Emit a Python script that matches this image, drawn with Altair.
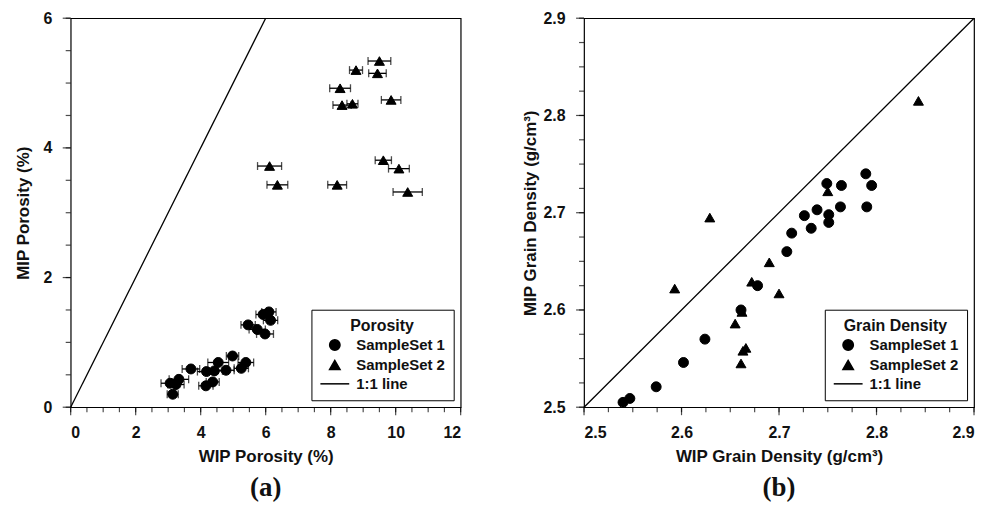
import altair as alt
import pandas as pd
import numpy as np

# ---------------- Panel (a): Porosity ----------------
s1_wip = [3.14, 3.06, 3.33, 3.24, 3.70, 4.16, 4.37, 4.18, 4.42, 4.54, 4.78, 4.98, 5.25, 5.39, 5.46, 5.74, 5.98, 5.92, 6.10, 6.15]
s1_mip = [0.20, 0.37, 0.43, 0.35, 0.59, 0.33, 0.39, 0.55, 0.56, 0.69, 0.57, 0.79, 0.60, 0.69, 1.27, 1.20, 1.13, 1.43, 1.47, 1.34]
s1_err = [0.17, 0.28, 0.30, 0.25, 0.27, 0.22, 0.20, 0.28, 0.25, 0.32, 0.25, 0.19, 0.22, 0.24, 0.22, 0.25, 0.26, 0.22, 0.22, 0.22]
s2_wip = [9.50, 8.78, 9.44, 8.29, 8.35, 8.67, 9.86, 6.12, 6.36, 8.20, 9.62, 10.10, 10.37]
s2_mip = [5.34, 5.20, 5.15, 4.92, 4.66, 4.68, 4.74, 3.72, 3.43, 3.43, 3.81, 3.68, 3.32]
s2_err = [0.35, 0.20, 0.27, 0.32, 0.28, 0.17, 0.30, 0.37, 0.32, 0.29, 0.25, 0.32, 0.45]

# ---------------- Panel (b): Grain density ----------------
g1_wip = [2.540, 2.547, 2.574, 2.602, 2.624, 2.661, 2.678, 2.708, 2.713, 2.726, 2.733, 2.739, 2.749, 2.751, 2.751, 2.763, 2.764, 2.789, 2.795, 2.790]
g1_mip = [2.505, 2.509, 2.521, 2.546, 2.570, 2.600, 2.625, 2.660, 2.679, 2.697, 2.684, 2.703, 2.730, 2.698, 2.690, 2.706, 2.728, 2.740, 2.728, 2.706]
g2_wip = [2.593, 2.629, 2.655, 2.663, 2.666, 2.661, 2.662, 2.672, 2.690, 2.700, 2.750, 2.843]
g2_mip = [2.622, 2.695, 2.586, 2.558, 2.561, 2.545, 2.598, 2.629, 2.649, 2.617, 2.722, 2.815]

# axis ticks
a_x_major = [0, 2, 4, 6, 8, 10, 12]
a_x_minor = [0.5 * i for i in range(25)]
a_y_major = [0, 2, 4, 6]
a_y_minor = [0.5 * i for i in range(13)]
b_major = [2.5, 2.6, 2.7, 2.8, 2.9]
b_minor = [round(2.5 + 0.025 * i, 3) for i in range(17)]

groups = ["SampleSet 1", "SampleSet 2", "1:1 line"]
shapes = ["circle", "triangle-up", "stroke"]

FONT = "Liberation Sans"
INK = "#111111"

por = pd.concat([
    pd.DataFrame({"wip": s1_wip, "mip": s1_mip, "err": s1_err, "set": groups[0]}),
    pd.DataFrame({"wip": s2_wip, "mip": s2_mip, "err": s2_err, "set": groups[1]}),
], ignore_index=True)
por["lo"] = por["wip"] - por["err"]
por["hi"] = por["wip"] + por["err"]

gd = pd.concat([
    pd.DataFrame({"wip": g1_wip, "mip": g1_mip, "set": groups[0]}),
    pd.DataFrame({"wip": g2_wip, "mip": g2_mip, "set": groups[1]}),
], ignore_index=True)

one_a = pd.DataFrame({"wip": [0, 6], "mip": [0, 6]})
one_b = pd.DataFrame({"wip": [2.5, 2.9], "mip": [2.5, 2.9]})


def label_axis(title, values, fmt, pad, tpad):
    return alt.Axis(
        title=title, values=values, grid=False, format=fmt,
        ticks=False, domain=False, labelOverlap=False, labelPadding=pad, titlePadding=tpad,
        labelFont=FONT, labelFontSize=16, labelFontWeight="bold", labelColor=INK,
        titleFont=FONT, titleFontSize=17, titleFontWeight="bold", titleColor=INK,
    )


def legend(title):
    return alt.Legend(
        title=title, orient="bottom-right", offset=7,
        strokeColor="black", fillColor="white", padding=8,
        titleFont=FONT, titleFontSize=16, titleFontWeight="bold", titleColor=INK,
        titleAnchor="middle", titlePadding=4,
        labelFont=FONT, labelFontSize=15, labelFontWeight="bold", labelColor=INK,
        symbolStrokeWidth=1.5, rowPadding=3, labelOffset=14, symbolOffset=8,
        symbolSize=alt.ExprRef(expr="datum.value === '1:1 line' ? 840 : 110"),
    )


def panel(df, line_df, xdom, ydom, ticks, xaxis, yaxis, leg_title, tag, errbars):
    xs = alt.Scale(domain=xdom, nice=False, zero=False)
    ys = alt.Scale(domain=ydom, nice=False, zero=False)
    xmaj, xmin, ymaj, ymin = ticks
    base = alt.Chart(df)
    layers = []
    # outward tick marks along the bottom and left edges (major 8px, minor 5px)
    for vals, size in ((xmin, 5), (xmaj, 8)):
        tdf = pd.DataFrame({"v": vals, "b": ydom[0]})
        layers.append(alt.Chart(tdf).mark_tick(orient="vertical", size=size, thickness=1.2,
                                               yOffset=size / 2, color="black").encode(
            x=alt.X("v:Q", scale=xs, axis=xaxis), y=alt.Y("b:Q", scale=ys, axis=yaxis)))
    for vals, size in ((ymin, 5), (ymaj, 8)):
        tdf = pd.DataFrame({"v": vals, "b": xdom[0]})
        layers.append(alt.Chart(tdf).mark_tick(orient="horizontal", size=size, thickness=1.2,
                                               xOffset=-size / 2, color="black").encode(
            y=alt.Y("v:Q", scale=ys, axis=yaxis), x=alt.X("b:Q", scale=xs, axis=xaxis)))
    layers.append(alt.Chart(line_df).mark_line(color="black", strokeWidth=1.3).encode(
        x=alt.X("wip:Q", scale=xs, axis=xaxis), y=alt.Y("mip:Q", scale=ys, axis=yaxis)))
    if errbars:
        layers.append(base.mark_rule(color="black", strokeWidth=1.3).encode(
            x=alt.X("lo:Q", scale=xs, axis=xaxis), x2="hi:Q", y=alt.Y("mip:Q", scale=ys, axis=yaxis)))
        for col in ("lo", "hi"):
            layers.append(base.mark_tick(orient="vertical", size=8, thickness=1.3, color="black").encode(
                x=alt.X(f"{col}:Q", scale=xs, axis=xaxis), y=alt.Y("mip:Q", scale=ys, axis=yaxis)))
    layers.append(base.mark_point(filled=False, color="black", fill="black", stroke="black",
                                  strokeWidth=1.0, opacity=1, fillOpacity=1, size=100).encode(
        x=alt.X("wip:Q", scale=xs, axis=xaxis),
        y=alt.Y("mip:Q", scale=ys, axis=yaxis),
        shape=alt.Shape("set:N", scale=alt.Scale(domain=groups, range=shapes), legend=legend(leg_title)),
    ))
    return alt.layer(*layers).properties(
        width=392, height=391,
        title=alt.TitleParams(tag, orient="bottom", font="Liberation Serif", fontSize=27,
                              fontWeight="bold", color=INK, offset=10, anchor="middle"),
    )


pa = panel(por, one_a, [0, 12], [0, 6], (a_x_major, a_x_minor, a_y_major, a_y_minor),
           label_axis("WIP Porosity (%)", a_x_major, ".0f", 17, 9),
           label_axis("MIP Porosity (%)", a_y_major, ".0f", 19, 10),
           "Porosity", "(a)", True)
pb = panel(gd, one_b, [2.5, 2.9], [2.5, 2.9], (b_major, b_minor, b_major, b_minor),
           label_axis("WIP Grain Density (g/cm³)", b_major, ".1f", 17, 9),
           label_axis("MIP Grain Density (g/cm³)", b_major, ".1f", 19, 4),
           "Grain Density", "(b)", False)

chart = alt.hconcat(pa, pb, spacing=58).resolve_scale(
    shape="independent"
).properties(
    background="white", padding={"left": 6, "right": 0, "top": 0, "bottom": 0}
).configure_view(
    stroke="black", strokeWidth=1.2
)

chart.save("out.html", embed_options={"renderer": "svg", "actions": False})
